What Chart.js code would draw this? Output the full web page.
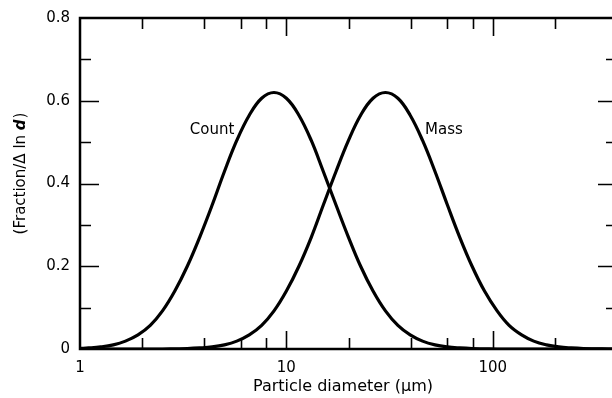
<!DOCTYPE html>
<html>
<head>
<meta charset="utf-8">
<script src="https://cdn.jsdelivr.net/npm/chart.js@4"></script>
<style>
    html, body { margin: 0; padding: 0; background: #fff; overflow: hidden; }
    #wrap { width: 620px; height: 398px; }
</style>
</head>
<body>
<div id="wrap"><canvas id="sizeChart" width="620" height="398"></canvas></div>
<script>
// Data (diameters in um, evenly spaced on the log axis)
const diameters = [1, 1.1, 1.26, 1.45, 1.66, 1.91, 2.19, 2.51, 2.88, 3.31, 3.8, 4.37, 5.01, 5.75, 6.61, 7.59,
    8.71, 10, 11.5, 13.2, 15.1, 17.4, 20, 22.9, 26.3, 30.2, 34.7, 39.8, 45.7, 52.5, 60.3, 69.2, 79.4, 91.2,
    105, 120, 138, 158, 182, 209, 240, 275, 316, 363, 400];
const countFrac = [0.0015, 0.0025, 0.005, 0.010, 0.019, 0.034, 0.057, 0.092, 0.14, 0.200, 0.270, 0.348, 0.429, 0.504, 0.565, 0.606,
    0.620, 0.606, 0.565, 0.504, 0.429, 0.348, 0.270, 0.200, 0.14, 0.092, 0.057, 0.034, 0.019, 0.010, 0.005, 0.0025, 0.001, 0.0005,
    0, 0, 0, 0, 0, 0, 0, 0, 0, 0, 0];
const massFrac = [0, 0, 0, 0, 0, 0, 0, 0, 0.0005, 0.001, 0.0025, 0.005, 0.010, 0.019, 0.034, 0.057,
    0.092, 0.14, 0.200, 0.270, 0.348, 0.429, 0.504, 0.565, 0.606, 0.620, 0.606, 0.565, 0.504, 0.429, 0.348, 0.270, 0.200, 0.14,
    0.092, 0.057, 0.034, 0.019, 0.010, 0.005, 0.0025, 0.001, 0.0005, 0, 0];

const xLabelTicks = [1, 10, 100];
const xMajorTicks = [10, 100];
const xMinorTicks = [2, 4, 6, 8, 20, 40, 60, 80, 200];
const yMajorTicks = [0.2, 0.4, 0.6];
const yMinorTicks = [0.1, 0.3, 0.5, 0.7];

const ink = '#000';
const fontFamily = '"DejaVu Sans", sans-serif';

// Frame, inward ticks and text labels
const framePlugin = {
    id: 'frame',
    afterDraw(chart) {
        const ctx = chart.ctx;
        const a = chart.chartArea;
        const xs = chart.scales.x;
        const ys = chart.scales.y;
        ctx.save();
        ctx.strokeStyle = ink;

        // ticks
        ctx.lineWidth = 1.6;
        const vTick = (v, len) => {
            const px = Math.round(xs.getPixelForValue(v)) + 0.5;
            ctx.beginPath();
            ctx.moveTo(px, a.bottom); ctx.lineTo(px, a.bottom - len);
            ctx.moveTo(px, a.top); ctx.lineTo(px, a.top + len);
            ctx.stroke();
        };
        const hTick = (v, len) => {
            const py = Math.round(ys.getPixelForValue(v)) + 0.5;
            ctx.beginPath();
            ctx.moveTo(a.left, py); ctx.lineTo(a.left + len, py);
            ctx.moveTo(a.right, py); ctx.lineTo(a.right - len, py);
            ctx.stroke();
        };
        xMajorTicks.forEach(v => vTick(v, 18));
        xMinorTicks.forEach(v => vTick(v, 11));
        yMajorTicks.forEach(v => hTick(v, 19));
        yMinorTicks.forEach(v => hTick(v, 11));

        // frame
        ctx.lineWidth = 2.5;
        ctx.strokeRect(a.left, a.top, a.right - a.left, a.bottom - a.top);

        // curve labels
        ctx.fillStyle = ink;
        ctx.font = '15px ' + fontFamily;
        ctx.textBaseline = 'middle';
        ctx.textAlign = 'right';
        ctx.fillText('Count', xs.getPixelForValue(5.6), ys.getPixelForValue(0.53));
        ctx.textAlign = 'left';
        ctx.fillText('Mass', xs.getPixelForValue(47), ys.getPixelForValue(0.53));

        // x title
        ctx.font = '16px ' + fontFamily;
        ctx.textAlign = 'center';
        ctx.fillText('Particle diameter (\u03bcm)', 343, 387);

        // y title, rotated
        ctx.translate(21, 174);
        ctx.rotate(-Math.PI / 2);
        const part1 = '(Fraction/\u0394 ln ';
        const part2 = 'd';
        const part3 = ')';
        ctx.font = '15px ' + fontFamily;
        const w1 = ctx.measureText(part1).width;
        const w3 = ctx.measureText(part3).width;
        ctx.font = 'italic bold 15px ' + fontFamily;
        const w2 = ctx.measureText(part2).width;
        let x0 = -(w1 + w2 + w3) / 2;
        ctx.textAlign = 'left';
        ctx.font = '15px ' + fontFamily;
        ctx.fillText(part1, x0, 0);
        ctx.font = 'italic bold 15px ' + fontFamily;
        ctx.fillText(part2, x0 + w1, 0);
        ctx.font = '15px ' + fontFamily;
        ctx.fillText(part3, x0 + w1 + w2 + 1, 0);
        ctx.restore();
    }
};

const toPoints = (ys) => diameters.map((d, i) => ({ x: d, y: ys[i] }));

new Chart(document.getElementById('sizeChart'), {
    type: 'line',
    data: {
        datasets: [
            {
                label: 'Count',
                data: toPoints(countFrac),
                borderColor: ink,
                borderWidth: 3.2,
                pointRadius: 0,
                tension: 0.4,
                fill: false
            },
            {
                label: 'Mass',
                data: toPoints(massFrac),
                borderColor: ink,
                borderWidth: 3.2,
                pointRadius: 0,
                tension: 0.4,
                fill: false
            }
        ]
    },
    options: {
        responsive: false,
        animation: false,
        layout: { padding: { top: 18, right: 3, left: 0, bottom: 0 } },
        plugins: {
            legend: { display: false },
            tooltip: { enabled: false }
        },
        scales: {
            x: {
                type: 'logarithmic',
                min: 1,
                max: 400,
                grid: { display: false },
                border: { display: false },
                afterBuildTicks: (scale) => {
                    scale.ticks = xLabelTicks.map(v => ({ value: v }));
                },
                afterFit: (scale) => { scale.height = 49; },
                ticks: {
                    color: ink,
                    padding: 2,
                    maxRotation: 0,
                    autoSkip: false,
                    font: { family: fontFamily, size: 15 },
                    callback: (v) => String(v)
                }
            },
            y: {
                min: 0,
                max: 0.8,
                grid: { display: false },
                border: { display: false },
                afterFit: (scale) => { scale.width = 80; },
                ticks: {
                    stepSize: 0.2,
                    color: ink,
                    padding: 2,
                    font: { family: fontFamily, size: 15 },
                    callback: (v) => String(Math.round(v * 10) / 10)
                }
            }
        }
    },
    plugins: [framePlugin]
});
</script>
</body>
</html>
